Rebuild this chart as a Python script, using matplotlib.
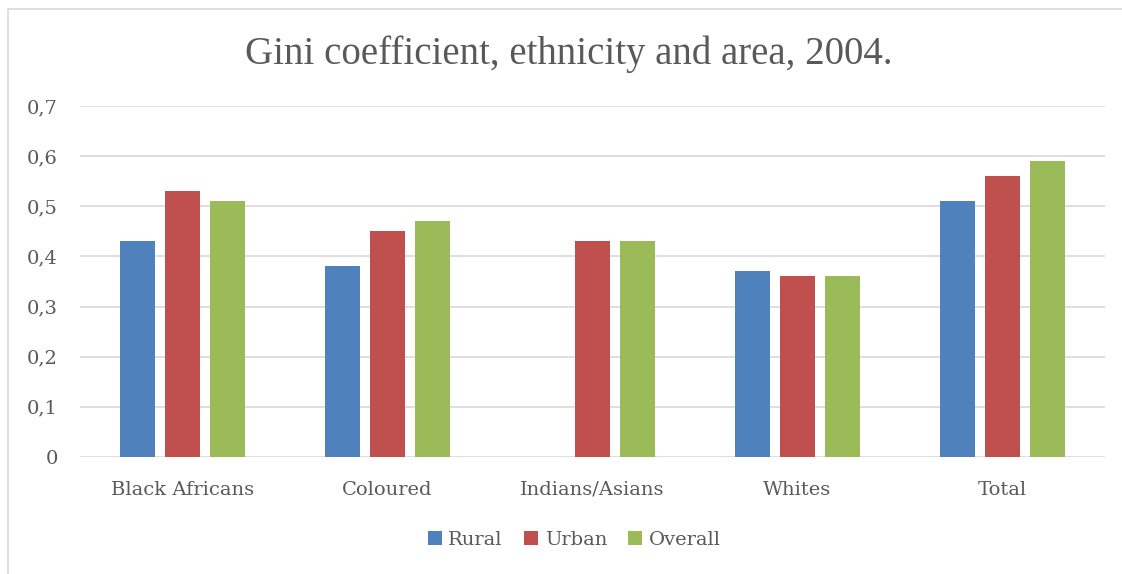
import numpy as np
from matplotlib import pyplot as plt
from matplotlib.patches import Rectangle

categories = ["Black Africans", "Coloured", "Indians/Asians", "Whites", "Total"]
rural = [0.43, 0.38, 0.0, 0.37, 0.51]
urban = [0.53, 0.45, 0.43, 0.36, 0.56]
overall = [0.51, 0.47, 0.43, 0.36, 0.59]
series_names = ["Rural", "Urban", "Overall"]
colors = ["#4F81BD", "#C0504D", "#9BBB59"]
yticks = [0, 0.1, 0.2, 0.3, 0.4, 0.5, 0.6, 0.7]

W, H = 1122, 574
fig = plt.figure(figsize=(W / 100, H / 100), dpi=100)
plt.rcParams['font.family'] = ['DejaVu Serif']
txt = "#595959"

# outer chart frame (runs off the picture at right and bottom)
fig.add_artist(Rectangle((8 / W, -0.1), 1.2, 1 - 9 / H + 0.1, transform=fig.transFigure,
                         fill=False, edgecolor="#D9D9D9", linewidth=1.2))

ax = fig.add_axes([80 / W, 1 - 457 / H, (1105 - 80) / W, (457 - 106) / H])
x = np.arange(len(categories))
width = 0.171
step = 0.22
for i, (vals, name, c) in enumerate(zip([rural, urban, overall], series_names, colors)):
    ax.bar(x + (i - 1) * step, vals, width, color=c, label=name, zorder=3)

ax.set_xlim(-0.5, len(categories) - 0.5)
ax.set_ylim(0, 0.7)
ax.set_yticks(yticks)
ax.set_yticklabels([("%g" % v).replace(".", ",") for v in yticks], color=txt, fontsize=14)
ax.set_xticks(x)
ax.set_xticklabels(categories, color=txt, fontsize=14)
ax.tick_params(length=0)
ax.tick_params(axis="y", pad=16)
ax.tick_params(axis="x", pad=17)
ax.grid(axis="y", color="#D9D9D9", linewidth=1.2, zorder=0)
for s in ax.spines.values():
    s.set_visible(False)

fig.text(0.507, 1 - 54 / H, "Gini coefficient, ethnicity and area, 2004.", ha="center", va="center",
         fontsize=28, color=txt, family="Liberation Serif")

fig.legend(loc="center", bbox_to_anchor=(0.512, 1 - 540 / H), ncol=3, frameon=False,
           fontsize=14, labelcolor=txt, handlelength=0.7, handleheight=0.7,
           handletextpad=0.35, columnspacing=1.1)

fig.savefig("out.png", dpi=100)
